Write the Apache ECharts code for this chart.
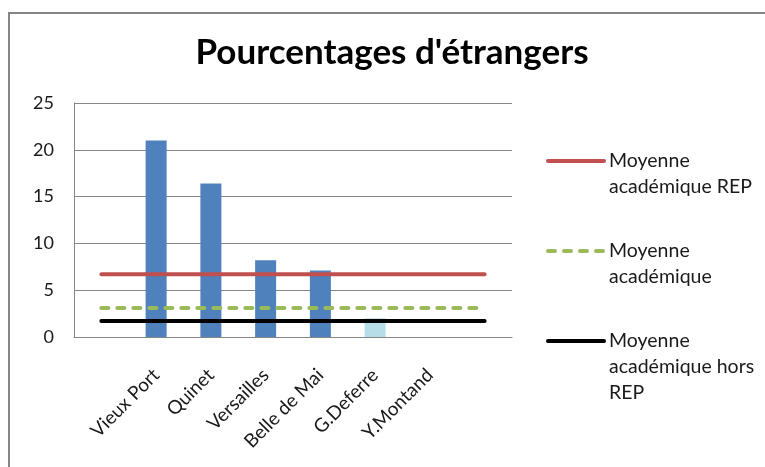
<!DOCTYPE html>
<html>
<head>
<meta charset="utf-8">
<script src="https://cdn.jsdelivr.net/npm/echarts@6/dist/echarts.min.js"></script>
<style>
    html, body { margin: 0; padding: 0; background: #fff; }
    #chart { width: 765px; height: 467px; }
</style>
</head>
<body>
<div id="chart"></div>
<script>
// 数据
const categories = ['', 'Vieux Port', 'Quinet', 'Versailles', 'Belle de Mai', 'G.Deferre', 'Y.Montand', ''];
const etrangers = [null, 21, 16.4, 8.2, 7.1, 2.0, 0, null]; //每所学校外国学生百分比
const moyenneRep = [6.7, 6.7, 6.7, 6.7, 6.7, 6.7, 6.7, 6.7];
const moyenneAcad = [3.1, 3.1, 3.1, 3.1, 3.1, 3.1, 3.1, 3.1];
const moyenneHorsRep = [1.7, 1.7, 1.7, 1.7, 1.7, 1.7, 1.7, 1.7];
const yTicks = [0, 5, 10, 15, 20, 25];
const lightBar = 'G.Deferre'; //浅色柱

(function () {
    const my_echart = echarts.init(document.getElementById('chart'));
    const font = 'Lato, "Open Sans", sans-serif';
    const txt = '#1a1a1a';

    // 柱子数据（G.Deferre 用浅色）
    const barData = etrangers.map(function (v, i) {
        return categories[i] === lightBar
            ? { value: v, itemStyle: { color: '#b7dde8' } }
            : v;
    });

    // 图例：每项单独一个legend，前面补空行，让图标对齐第一行文字
    function legendItem(name, top) {
        const lines = name.split('\n').length;
        return {
            show: true,
            orient: 'vertical',
            left: 546,
            top: top,
            padding: 0,
            itemWidth: 56,
            itemHeight: 14,
            data: [name],
            formatter: function (n) {
                return ' \n'.repeat(lines - 1) + n;
            },
            lineStyle: { width: 4 },
            itemStyle: { opacity: 0 },
            textStyle: {
                fontFamily: font,
                fontSize: 19.5,
                color: txt,
                lineHeight: 26
            }
        };
    }

    let option = {
        backgroundColor: '#fff',
        animation: false,
        title: {
            text: "Pourcentages d'étrangers",
            left: 392,
            textAlign: 'center',
            top: 35,
            padding: 0,
            textStyle: {
                fontFamily: font,
                fontWeight: 'bold',
                fontSize: 35,
                color: '#000'
            }
        },
        graphic: [{
            type: 'rect',
            shape: { x: 9, y: 13, width: 820, height: 520 },
            style: { fill: 'none', stroke: '#868686', lineWidth: 2 },
            silent: true
        }],
        legend: [
            legendItem('Moyenne\nacadémique REP', 122),
            legendItem('Moyenne\nacadémique', 212),
            legendItem('Moyenne\nacadémique hors\nREP', 276)
        ],
        grid: {
            left: 74,
            right: 253,
            top: 103,
            bottom: 130
        },
        xAxis: {
            type: 'category',
            data: categories,
            boundaryGap: true,
            axisLine: { lineStyle: { color: '#868686', width: 1 } },
            axisTick: { show: false },
            axisLabel: {
                interval: 0,
                rotate: 45,
                margin: 35,
                fontFamily: font,
                fontSize: 19,
                color: txt
            }
        },
        yAxis: {
            type: 'value',
            min: yTicks[0],
            max: yTicks[yTicks.length - 1],
            interval: 5,
            axisLine: { show: true, lineStyle: { color: '#868686', width: 1 } },
            axisTick: { show: false },
            axisLabel: {
                margin: 20,
                fontFamily: font,
                fontSize: 18,
                color: txt
            },
            splitLine: { lineStyle: { color: '#868686', width: 1 } }
        },
        series: [
            {
                name: 'Pourcentage',
                type: 'bar',
                barWidth: 21,
                data: barData,
                itemStyle: { color: '#4f81bd' }
            },
            {
                name: 'Moyenne\nacadémique REP',
                type: 'line',
                data: moyenneRep,
                symbol: 'none',
                lineStyle: { color: '#c0504d', width: 4, cap: 'round' },
                itemStyle: { color: '#c0504d' }
            },
            {
                name: 'Moyenne\nacadémique',
                type: 'line',
                data: moyenneAcad,
                symbol: 'none',
                lineStyle: { color: '#9bbb59', width: 4, type: [7, 9], cap: 'round' },
                itemStyle: { color: '#9bbb59' }
            },
            {
                name: 'Moyenne\nacadémique hors\nREP',
                type: 'line',
                data: moyenneHorsRep,
                symbol: 'none',
                lineStyle: { color: '#000', width: 4, cap: 'round' },
                itemStyle: { color: '#000' }
            }
        ]
    };
    my_echart.setOption(option);
    window.addEventListener('resize', function () {
        my_echart.resize();
    });
})();
</script>
</body>
</html>
